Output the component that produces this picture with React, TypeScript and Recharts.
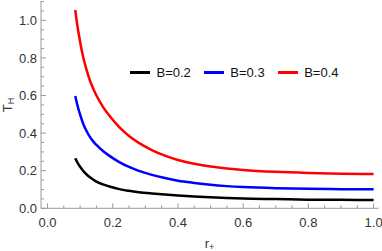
import React from "react"
import { LineChart, Line, XAxis, YAxis, Legend } from "recharts"

const rPlus = [0.085, 0.09, 0.095, 0.1, 0.11, 0.12, 0.13, 0.14, 0.15, 0.17, 0.19, 0.22, 0.25, 0.28, 0.32, 0.36, 0.4, 0.45, 0.5, 0.55, 0.6, 0.7, 0.8, 0.9, 1.0]
const tB02 = [0.266, 0.249, 0.234, 0.221, 0.198, 0.18, 0.165, 0.153, 0.142, 0.127, 0.116, 0.102, 0.093, 0.086, 0.079, 0.073, 0.068, 0.063, 0.059, 0.055, 0.052, 0.049, 0.046, 0.045, 0.044]
const tB03 = [0.598, 0.56, 0.527, 0.498, 0.447, 0.41, 0.38, 0.356, 0.337, 0.305, 0.279, 0.246, 0.22, 0.199, 0.178, 0.161, 0.147, 0.135, 0.125, 0.118, 0.113, 0.107, 0.104, 0.102, 0.101]
const tB04 = [1.055, 0.99, 0.935, 0.885, 0.8, 0.735, 0.68, 0.637, 0.6, 0.54, 0.492, 0.432, 0.385, 0.348, 0.31, 0.28, 0.257, 0.237, 0.222, 0.212, 0.204, 0.194, 0.188, 0.184, 0.182]
const seriesNames = ["B=0.2", "B=0.3", "B=0.4"]
const seriesColors = ["#000000", "#0000ff", "#ff0000"]

const xTicks = [0, 0.05, 0.1, 0.15, 0.2, 0.25, 0.3, 0.35, 0.4, 0.45, 0.5, 0.55, 0.6, 0.65, 0.7, 0.75, 0.8, 0.85, 0.9, 0.95, 1.0]
const yTicks = [0, 0.05, 0.1, 0.15, 0.2, 0.25, 0.3, 0.35, 0.4, 0.45, 0.5, 0.55, 0.6, 0.65, 0.7, 0.75, 0.8, 0.85, 0.9, 0.95, 1.0, 1.05, 1.1]
const majorTicks = [0, 0.2, 0.4, 0.6, 0.8, 1.0]

const data = rPlus.map((r, i) => ({ r, b02: tB02[i], b03: tB03[i], b04: tB04[i] }))

const FONT = "'Liberation Sans', Arial, sans-serif"
const FRAME = "#9a9a9a"
const TEXT = "#333333"

const isMajor = (v: number) => majorTicks.some(m => Math.abs(m - v) < 1e-6)

// frame ticks point inward, labels only on bottom/left
const makeTick = (side: "bottom" | "top" | "left" | "right") => (props: any) => {
  const { x, y, payload } = props
  const v = payload.value as number
  const len = isMajor(v) ? 5 : 3
  let x2 = x, y2 = y
  if (side === "bottom") y2 = y - len
  if (side === "top") y2 = y + len
  if (side === "left") x2 = x + len
  if (side === "right") x2 = x - len
  return (
    <g>
      <line x1={x} y1={y} x2={x2} y2={y2} stroke={FRAME} strokeWidth={1} />
      {side === "bottom" && isMajor(v) && (
        <text x={x} y={y + 18.5} textAnchor="middle" fontSize={13} fontFamily={FONT} fill={TEXT}>
          {v.toFixed(1)}
        </text>
      )}
      {side === "left" && isMajor(v) && (
        <text x={x - 4} y={y + 4.6} textAnchor="end" fontSize={13} fontFamily={FONT} fill={TEXT}>
          {v.toFixed(1)}
        </text>
      )}
    </g>
  )
}

const LegendContent = ({ payload }: any) => (
  <div style={{ display: "flex", alignItems: "center", fontFamily: FONT, fontSize: 13, color: "#111" }}>
    {(payload || []).map((p: any, i: number) => (
      <div key={i} style={{ display: "flex", alignItems: "center", marginRight: 13 }}>
        <div style={{ width: 20, height: 2.5, background: p.color, marginRight: 6.5 }} />
        <span style={{ lineHeight: "15px" }}>{p.value}</span>
      </div>
    ))}
  </div>
)

export default function App() {
  return (
    <div style={{ position: "absolute", left: 0, top: 0, width: 382, height: 251, background: "#fff" }}>
      <LineChart width={382} height={251} data={data} margin={{ top: 1, right: 3.5, bottom: 0, left: 0 }}>
        <XAxis
          dataKey="r"
          type="number"
          domain={[-0.02, 1.015]}
          allowDataOverflow
          ticks={xTicks}
          interval={0}
          height={42.7}
          tickSize={0}
          tickMargin={0}
          tickLine={false}
          axisLine={{ stroke: FRAME }}
          tick={makeTick("bottom")}
          label={{
            content: () => (
              <text x={209.5} y={248} textAnchor="middle" fontSize={13} fontFamily={FONT} fill={TEXT}>
                r<tspan fontSize={9} dy={2}>+</tspan>
              </text>
            )
          }}
        />
        <XAxis
          xAxisId="top"
          orientation="top"
          type="number"
          domain={[-0.02, 1.015]}
          allowDataOverflow
          ticks={xTicks}
          interval={0}
          height={0}
          tickSize={0}
          tickMargin={0}
          tickLine={false}
          axisLine={{ stroke: FRAME }}
          tick={makeTick("top")}
        />
        <YAxis
          type="number"
          domain={[0, 1.103]}
          allowDataOverflow
          ticks={yTicks}
          interval={0}
          width={41}
          tickSize={0}
          tickMargin={0}
          tickLine={false}
          axisLine={{ stroke: FRAME }}
          tick={makeTick("left")}
          label={{
            content: () => (
              <text transform="translate(11.5,105) rotate(-90)" textAnchor="middle" fontSize={13} fontFamily={FONT} fill={TEXT}>
                T<tspan fontSize={9} dy={2}>H</tspan>
              </text>
            )
          }}
        />
        <YAxis
          yAxisId="right"
          orientation="right"
          type="number"
          domain={[0, 1.103]}
          allowDataOverflow
          ticks={yTicks}
          interval={0}
          width={0}
          tickSize={0}
          tickMargin={0}
          tickLine={false}
          axisLine={{ stroke: FRAME }}
          tick={makeTick("right")}
        />
        <Legend
          layout="horizontal"
          verticalAlign="middle"
          align="center"
          content={<LegendContent />}
          wrapperStyle={{ position: "absolute", left: 130, top: 65, width: "auto" }}
        />
        <Line type="monotone" dataKey="b02" name={seriesNames[0]} stroke={seriesColors[0]} strokeWidth={2.5} dot={false} isAnimationActive={false} />
        <Line type="monotone" dataKey="b03" name={seriesNames[1]} stroke={seriesColors[1]} strokeWidth={2.5} dot={false} isAnimationActive={false} />
        <Line type="monotone" dataKey="b04" name={seriesNames[2]} stroke={seriesColors[2]} strokeWidth={2.5} dot={false} isAnimationActive={false} />
      </LineChart>
    </div>
  )
}
